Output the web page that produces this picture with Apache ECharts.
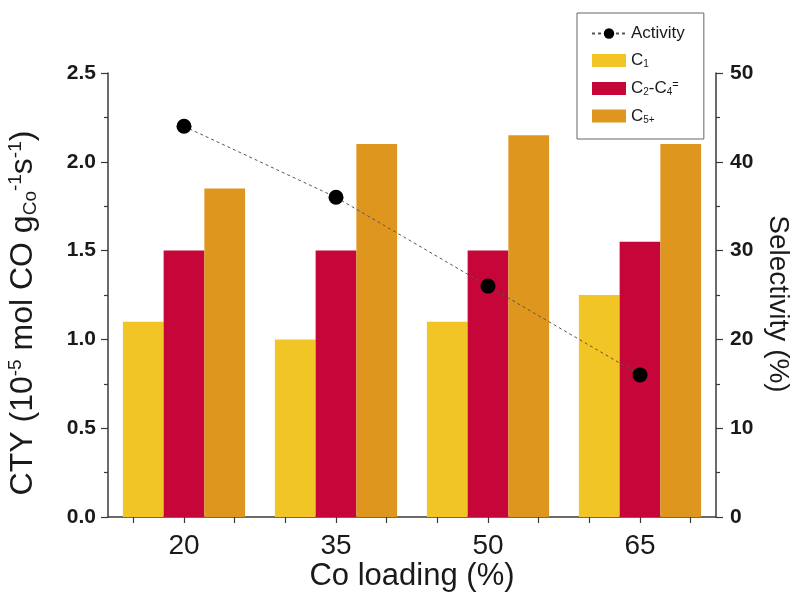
<!DOCTYPE html>
<html>
<head>
<meta charset="utf-8">
<script src="https://cdn.jsdelivr.net/npm/echarts@6/dist/echarts.min.js"></script>
<style>
  html, body { margin: 0; padding: 0; background: #fff; }
  #chart { width: 796px; height: 592px; }
</style>
</head>
<body>
<div id="chart"></div>
<script>
// Co loading categories (%)
const loadings = ['20', '35', '50', '65'];
// Catalytic activity, CTY (10^-5 mol CO gCo^-1 s^-1)
const activity = [2.2, 1.8, 1.3, 0.8];
// Product selectivity (%)
const selC1 = [22, 20, 22, 25];
const selC2C4 = [30, 30, 30, 31];
const selC5 = [37, 42, 43, 42];
// Axis ticks
const ctyTicks = { min: 0, max: 2.5, step: 0.5 };
const selTicks = { min: 0, max: 50, step: 10 };

const FONT = '"Liberation Sans", Arial, sans-serif';
const AXIS_COLOR = '#3a3a3a';
const TEXT_COLOR = '#1a1a1a';

const legendText = {
  'Activity': '{t|Activity}',
  'C1': '{t|C}{sub|1}',
  'C2-C4=': '{t|C}{sub|2}{t|-C}{sub|4}{sup|=}',
  'C5+': '{t|C}{sub|5+}'
};

// minor tick positions along the category axis (three per category)
const subTicks = [];
loadings.forEach(l => { subTicks.push(l + 'a', l + 'b', l + 'c'); });

const chart = echarts.init(document.getElementById('chart'), null, { renderer: 'canvas' });

chart.setOption({
  backgroundColor: '#fff',
  animation: false,
  textStyle: { fontFamily: FONT },
  grid: { left: 108, right: 80, top: 73, bottom: 75, containLabel: false, outerBoundsMode: 'none' },
  legend: {
    orient: 'vertical',
    left: 577,
    top: 13,
    padding: [12, 19, 14, 14],
    itemGap: 10,
    itemWidth: 34,
    itemHeight: 13,
    borderColor: '#666',
    borderWidth: 1,
    borderRadius: 0,
    data: [
      { name: 'Activity' },
      { name: 'C1', icon: 'rect' },
      { name: 'C2-C4=', icon: 'rect' },
      { name: 'C5+', icon: 'rect' }
    ],
    formatter: name => legendText[name],
    textStyle: {
      color: TEXT_COLOR,
      rich: {
        t: { fontSize: 17, lineHeight: 18, fontFamily: FONT, color: TEXT_COLOR },
        sub: { fontSize: 10, lineHeight: 9, verticalAlign: 'bottom', fontFamily: FONT, color: TEXT_COLOR },
        sup: { fontSize: 11, lineHeight: 10, verticalAlign: 'top', fontFamily: FONT, color: TEXT_COLOR }
      }
    }
  },
  xAxis: [
    {
      type: 'category',
      data: loadings,
      position: 'bottom',
      boundaryGap: true,
      name: 'Co loading (%)',
      nameLocation: 'middle',
      nameGap: 44,
      nameMoveOverlap: false,
      nameTextStyle: { fontSize: 31, color: TEXT_COLOR, fontFamily: FONT },
      axisLine: { lineStyle: { color: AXIS_COLOR, width: 1.5 } },
      axisTick: { show: false },
      axisLabel: { fontSize: 28, color: TEXT_COLOR, margin: 15, fontFamily: FONT },
      splitLine: { show: false }
    },
    {
      type: 'category',
      data: subTicks,
      position: 'bottom',
      boundaryGap: true,
      axisLine: { show: false },
      axisTick: { show: true, alignWithLabel: true, interval: 0, length: 6, lineStyle: { color: AXIS_COLOR, width: 1.2 } },
      axisLabel: { show: false },
      splitLine: { show: false }
    }
  ],
  yAxis: [
    {
      type: 'value',
      position: 'left',
      min: ctyTicks.min,
      max: ctyTicks.max,
      interval: ctyTicks.step,
      name: '{t|CTY (10}{sup|-5}{t| mol CO g}{sub|Co}{sup|-1}{t|s}{sup|-1}{t|)}',
      nameLocation: 'middle',
      nameRotate: 90,
      nameGap: 68,
      nameMoveOverlap: false,
      nameTextStyle: {
        padding: [0, 36, 0, 0],
        rich: {
          t: { fontSize: 32, lineHeight: 34, color: TEXT_COLOR, fontFamily: FONT },
          sup: { fontSize: 19, lineHeight: 18, verticalAlign: 'top', color: TEXT_COLOR, fontFamily: FONT },
          sub: { fontSize: 19, lineHeight: 18, verticalAlign: 'bottom', color: TEXT_COLOR, fontFamily: FONT }
        }
      },
      axisLine: { show: true, lineStyle: { color: AXIS_COLOR, width: 1.5 } },
      axisTick: { show: true, inside: false, length: 7, lineStyle: { color: AXIS_COLOR, width: 1.2 } },
      minorTick: { show: true, splitNumber: 2, length: 4, lineStyle: { color: AXIS_COLOR, width: 1.2 } },
      axisLabel: {
        fontSize: 21, fontWeight: 'bold', color: TEXT_COLOR, margin: 12, fontFamily: FONT,
        formatter: v => v.toFixed(1)
      },
      splitLine: { show: false }
    },
    {
      type: 'value',
      position: 'right',
      min: selTicks.min,
      max: selTicks.max,
      interval: selTicks.step,
      name: 'Selectivity (%)',
      nameLocation: 'middle',
      nameRotate: -90,
      nameGap: 48,
      nameMoveOverlap: false,
      nameTextStyle: { fontSize: 28, color: TEXT_COLOR, fontFamily: FONT, padding: [0, 0, 0, 18] },
      axisLine: { show: true, lineStyle: { color: AXIS_COLOR, width: 1.5 } },
      axisTick: { show: true, inside: false, length: 7, lineStyle: { color: AXIS_COLOR, width: 1.2 } },
      minorTick: { show: true, splitNumber: 2, length: 4, lineStyle: { color: AXIS_COLOR, width: 1.2 } },
      axisLabel: { fontSize: 21, fontWeight: 'bold', color: TEXT_COLOR, margin: 14, fontFamily: FONT },
      splitLine: { show: false }
    }
  ],
  series: [
    {
      name: 'C1',
      type: 'bar',
      xAxisIndex: 0,
      yAxisIndex: 1,
      data: selC1,
      barWidth: '26.8%',
      barGap: '0%',
      itemStyle: { color: '#f2c526' }
    },
    {
      name: 'C2-C4=',
      type: 'bar',
      xAxisIndex: 0,
      yAxisIndex: 1,
      data: selC2C4,
      barWidth: '26.8%',
      barGap: '0%',
      itemStyle: { color: '#c60538' }
    },
    {
      name: 'C5+',
      type: 'bar',
      xAxisIndex: 0,
      yAxisIndex: 1,
      data: selC5,
      barWidth: '26.8%',
      barGap: '0%',
      itemStyle: { color: '#df961f' }
    },
    {
      name: 'Activity',
      type: 'line',
      xAxisIndex: 0,
      yAxisIndex: 0,
      data: activity,
      z: 5,
      symbol: 'circle',
      symbolSize: 15,
      itemStyle: { color: '#000' },
      lineStyle: { color: '#555', width: 1, type: [3, 3] }
    }
  ]
});
</script>
</body>
</html>
